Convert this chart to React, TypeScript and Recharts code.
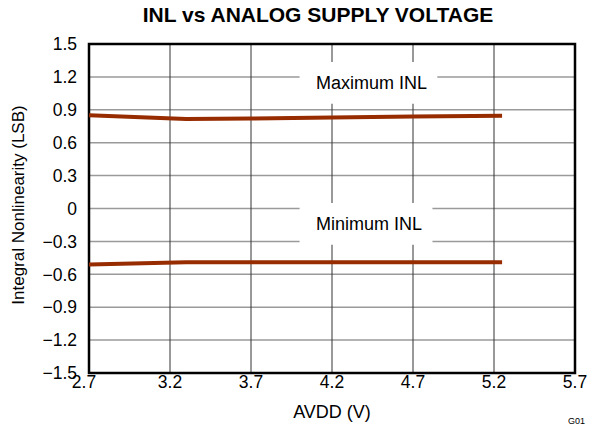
import React from 'react';
import {
  LineChart, Line, XAxis, YAxis, CartesianGrid, ReferenceArea,
} from 'recharts';

const maxInlX = [2.7, 3.3, 3.7, 4.2, 4.7, 5.25];
const maxInlY = [0.85, 0.815, 0.82, 0.83, 0.84, 0.845];
const minInlX = [2.7, 3.3, 3.7, 4.2, 4.7, 5.25];
const minInlY = [-0.51, -0.49, -0.49, -0.49, -0.49, -0.49];

const xTicks = [2.7, 3.2, 3.7, 4.2, 4.7, 5.2, 5.7];
const yTicks = [-1.5, -1.2, -0.9, -0.6, -0.3, 0, 0.3, 0.6, 0.9, 1.2, 1.5];

const title = 'INL vs ANALOG SUPPLY VOLTAGE';
const xLabel = 'AVDD (V)';
const yLabel = 'Integral Nonlinearity (LSB)';
const maxLabel = 'Maximum INL';
const minLabel = 'Minimum INL';

const maxData = maxInlX.map((x, i) => ({ x, y: maxInlY[i] }));
const minData = minInlX.map((x, i) => ({ x, y: minInlY[i] }));

const FONT = '"Liberation Sans", Arial, sans-serif';
const LINE_COLOR = '#972c00';
const FS = 17.5;

const fmtY = (v: number) => {
  if (v === 0) return '0';
  const s = Math.abs(v).toFixed(1);
  return v < 0 ? '\u2212' + s : s;
};

const XTick = (props: any) => {
  const { x, y, payload, index } = props;
  const shift = index === 0 ? -5 : 0;
  return (
    <text x={x + shift} y={y} dy="0.71em" textAnchor="middle"
      fontFamily={FONT} fontSize={FS} fill="#000">{Number(payload.value).toFixed(1)}</text>
  );
};

const boxLabel = (text: string) => (props: any) => {
  const { viewBox } = props;
  const cx = viewBox.x + viewBox.width / 2 + 3;
  const cy = viewBox.y + viewBox.height / 2;
  return (
    <text x={cx} y={cy} textAnchor="middle" dominantBaseline="central"
      fontFamily={FONT} fontSize={18} fill="#000">{text}</text>
  );
};

export default function App() {
  return (
    <div style={{ position: 'absolute', left: 0, top: 0, width: 589, height: 428, background: '#fff' }}>
      <LineChart width={589} height={428} margin={{ top: 44, right: 14, bottom: 0, left: 0 }}>
        <CartesianGrid horizontal={true} vertical={false} stroke="#9a9a9a" strokeWidth={1.5} />
        <CartesianGrid horizontal={false} vertical={true} stroke="#333" strokeWidth={1} />
        <XAxis
          type="number" dataKey="x" domain={[2.7, 5.7]} ticks={xTicks}
          allowDataOverflow height={55} tickLine={false} axisLine={false}
          tickSize={0} tickMargin={3} interval={0}
          tick={<XTick />}
          label={{ value: xLabel, position: 'insideBottom', offset: 10, fontFamily: FONT, fontSize: 18, fill: '#000' }}
        />
        <YAxis
          type="number" dataKey="y" domain={[-1.5, 1.5]} ticks={yTicks}
          allowDataOverflow width={89} tickLine={false} axisLine={false}
          tickSize={0} tickMargin={12} interval={0}
          tick={{ fontFamily: FONT, fontSize: FS, fill: '#000' }}
          tickFormatter={fmtY}
        />
        <ReferenceArea x1={4.0} x2={4.85} y1={0.955} y2={1.335} fill="#fff" fillOpacity={1} stroke="none"
          label={boxLabel(maxLabel)} />
        <ReferenceArea x1={4.0} x2={4.82} y1={-0.33} y2={0.05} fill="#fff" fillOpacity={1} stroke="none"
          label={boxLabel(minLabel)} />
        <ReferenceArea x1={2.7} x2={5.7} y1={-1.5} y2={1.5} fill="none" stroke="#000" strokeWidth={2.5} />
        <Line data={maxData} dataKey="y" type="linear" stroke={LINE_COLOR} strokeWidth={4}
          dot={false} activeDot={false} isAnimationActive={false} />
        <Line data={minData} dataKey="y" type="linear" stroke={LINE_COLOR} strokeWidth={4}
          dot={false} activeDot={false} isAnimationActive={false} />
        <text x={318} y={14} textAnchor="middle" dominantBaseline="central"
          fontFamily={FONT} fontSize={21} fontWeight="bold" fill="#000">{title}</text>
        <text x={18} y={205} textAnchor="middle" dominantBaseline="central"
          transform="rotate(-90 18 205)"
          fontFamily={FONT} fontSize={17} fill="#000">{yLabel}</text>
        <text x={568} y={424} fontFamily={FONT} fontSize={9} fill="#000">G01</text>
      </LineChart>
    </div>
  );
}
